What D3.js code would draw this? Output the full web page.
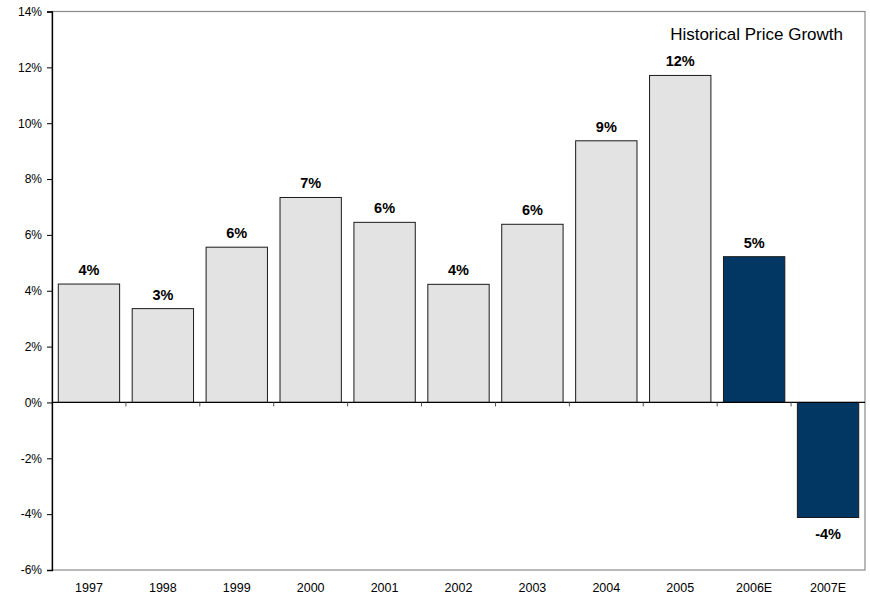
<!DOCTYPE html>
<html>
<head>
<meta charset="utf-8">
<script src="https://cdn.jsdelivr.net/npm/d3@7"></script>
<style>
  body { margin: 0; background: #fff; }
  svg text { font-family: "Liberation Sans", Arial, Helvetica, sans-serif; }
</style>
</head>
<body>
<svg id="chart" width="870" height="600"></svg>
<script>
// Data
const years = ["1997", "1998", "1999", "2000", "2001", "2002", "2003", "2004", "2005", "2006E", "2007E"];
const growth = [4.24, 3.36, 5.56, 7.34, 6.45, 4.23, 6.38, 9.37, 11.71, 5.22, -4.12];
const estimated = ["2006E", "2007E"];
const yTicks = [-6, -4, -2, 0, 2, 4, 6, 8, 10, 12, 14];
const title = "Historical Price Growth";

const svg = d3.select("#chart");
const margin = {left: 52, right: 5, top: 11.5, bottom: 30};
const W = 870, H = 600;

const x = d3.scaleBand().domain(years).range([margin.left, W - margin.right]).paddingInner(0.17).paddingOuter(0.085);
const xb = d3.scaleBand().domain(years).range([margin.left, W - margin.right]);
const y = d3.scaleLinear().domain([-6, 14]).range([H - margin.bottom, margin.top]);

// frame (top, right, bottom in gray)
svg.append("rect")
    .attr("x", margin.left)
    .attr("y", y(14))
    .attr("width", W - margin.right - margin.left)
    .attr("height", y(-6) - y(14))
    .attr("fill", "none")
    .attr("stroke", "#8a8a8a")
    .attr("stroke-width", 1.2);

// bars
svg.append("g")
    .selectAll("rect")
    .data(years)
    .enter()
    .append("rect")
    .attr("x", d => x(d))
    .attr("width", x.bandwidth())
    .attr("y", (d, i) => y(Math.max(0, growth[i])))
    .attr("height", (d, i) => Math.abs(y(growth[i]) - y(0)))
    .attr("fill", d => estimated.includes(d) ? "#023764" : "#e3e3e3")
    .attr("stroke", "#1a1a1a")
    .attr("stroke-width", 1);

// value labels
svg.append("g")
    .selectAll("text")
    .data(years)
    .enter()
    .append("text")
    .attr("x", d => x(d) + x.bandwidth() / 2)
    .attr("y", (d, i) => growth[i] >= 0 ? y(growth[i]) - 9 : y(growth[i]) + 21)
    .attr("text-anchor", "middle")
    .style("font-size", "14.5px")
    .style("font-weight", "bold")
    .text((d, i) => Math.round(growth[i]) + "%");

// y axis
const yAxis = d3.axisLeft(y).tickValues(yTicks).tickSize(5).tickPadding(5)
    .tickFormat(d => d + "%");
const gy = svg.append("g").attr("transform", `translate(${margin.left},0)`).call(yAxis);
gy.select(".domain").attr("stroke", "#000").attr("stroke-width", 1.3);
gy.selectAll(".tick line").attr("stroke", "#000");
gy.selectAll(".tick text").style("font-size", "12px").attr("fill", "#000");

// zero line with category ticks
svg.append("line")
    .attr("x1", margin.left).attr("x2", W - margin.right)
    .attr("y1", y(0)).attr("y2", y(0))
    .attr("stroke", "#000").attr("stroke-width", 1.3);
svg.append("g")
    .selectAll("line")
    .data(years.slice(1))
    .enter()
    .append("line")
    .attr("x1", d => xb(d)).attr("x2", d => xb(d))
    .attr("y1", y(0)).attr("y2", y(0) + 4)
    .attr("stroke", "#555");

// x labels
svg.append("g")
    .selectAll("text")
    .data(years)
    .enter()
    .append("text")
    .attr("x", d => xb(d) + xb.bandwidth() / 2)
    .attr("y", H - 8)
    .attr("text-anchor", "middle")
    .style("font-size", "12.5px")
    .text(d => d);

// title
svg.append("text")
    .attr("x", 843)
    .attr("y", 40)
    .attr("text-anchor", "end")
    .style("font-size", "17px")
    .text(title);
</script>
</body>
</html>
